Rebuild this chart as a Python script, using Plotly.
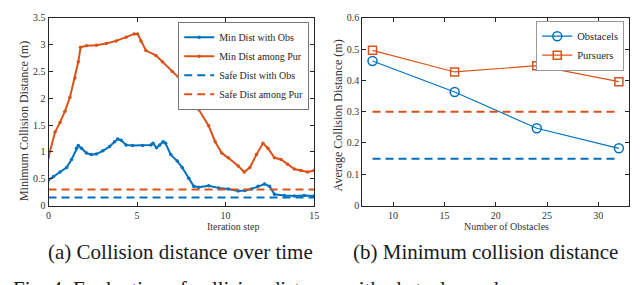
import plotly.graph_objects as go

# ---------------- data ----------------
# (a) collision distance over time
t_obs = [0, 0.28, 0.65, 1.02, 1.3, 1.58, 1.68, 1.86, 2.14, 2.42, 2.7, 3.07, 3.45, 3.73, 3.91, 4.1,
         4.38, 4.75, 5.31, 5.78, 5.9, 6.1, 6.28, 6.47, 6.61, 6.9, 7.27, 7.55, 7.92, 8.2, 8.48, 9.04,
         9.6, 10.15, 10.71, 11.09, 11.46, 11.83, 12.2, 12.48, 12.76, 13.32, 13.88, 14.44, 15]
d_obs = [0.476, 0.54, 0.625, 0.71, 0.86, 1.07, 1.12, 1.07, 0.98, 0.95, 0.96, 1.02, 1.1, 1.19, 1.24, 1.22,
         1.13, 1.12, 1.12, 1.13, 1.16, 1.08, 1.13, 1.19, 1.16, 0.95, 0.83, 0.71, 0.51, 0.36, 0.34, 0.37,
         0.33, 0.31, 0.27, 0.28, 0.31, 0.36, 0.40, 0.36, 0.21, 0.19, 0.18, 0.19, 0.18]
t_pur = [0, 0.37, 0.65, 0.93, 1.21, 1.49, 1.68, 1.81, 2.14, 2.7, 3.26, 3.82, 4.38, 4.84, 5.03, 5.22,
         5.5, 6.06, 6.43, 6.99, 7.55, 7.92, 8.2, 8.48, 9.04, 9.41, 9.78, 10.15, 10.71, 11.05, 11.37,
         11.74, 12.11, 12.39, 12.76, 13.13, 13.5, 13.88, 14.25, 14.63, 15]
d_pur = [0.905, 1.37, 1.55, 1.76, 2.02, 2.38, 2.68, 2.95, 2.98, 2.99, 3.02, 3.07, 3.14, 3.2, 3.2, 3.07,
         2.89, 2.8, 2.68, 2.5, 2.32, 2.08, 1.9, 1.79, 1.49, 1.19, 0.98, 0.89, 0.74, 0.625, 0.71,
         0.95, 1.16, 1.07, 0.89, 0.86, 0.77, 0.68, 0.655, 0.625, 0.655]
t_range = [0, 15]
safe_obs = 0.15
safe_pur = 0.30

# (b) minimum collision distance vs number of obstacles
n_obstacles = [8, 16, 24, 32]
avg_obs = [0.462, 0.363, 0.247, 0.183]
avg_pur = [0.496, 0.427, 0.447, 0.396]

BLUE = "#0072BD"
ORANGE = "#D95319"
FONT = "Liberation Serif"
W, H = 640, 285


def fx(p):
    return p / W


def fy(p):
    return 1 - p / H


fig = go.Figure()

# ---- left panel ----
fig.add_trace(go.Scatter(x=t_obs, y=d_obs, mode="lines+markers", name="Min Dist with Obs",
                         line=dict(color=BLUE, width=2), marker=dict(size=3.5, color=BLUE),
                         xaxis="x", yaxis="y", legend="legend"))
fig.add_trace(go.Scatter(x=t_pur, y=d_pur, mode="lines+markers", name="Min Dist among Pur",
                         line=dict(color=ORANGE, width=2), marker=dict(size=3.5, color=ORANGE),
                         xaxis="x", yaxis="y", legend="legend"))
fig.add_trace(go.Scatter(x=t_range, y=[safe_obs] * 2, mode="lines", name="Safe Dist with Obs",
                         line=dict(color=BLUE, width=2, dash="8px,5px"),
                         xaxis="x", yaxis="y", legend="legend"))
fig.add_trace(go.Scatter(x=t_range, y=[safe_pur] * 2, mode="lines", name="Safe Dist among Pur",
                         line=dict(color=ORANGE, width=2, dash="8px,5px"),
                         xaxis="x", yaxis="y", legend="legend"))

# ---- right panel ----
fig.add_trace(go.Scatter(x=n_obstacles, y=avg_obs, mode="lines+markers", name="Obstacels",
                         line=dict(color=BLUE, width=1.2),
                         marker=dict(symbol="circle-open", size=9, color=BLUE, line=dict(width=1.5)),
                         xaxis="x2", yaxis="y2", legend="legend2"))
fig.add_trace(go.Scatter(x=n_obstacles, y=avg_pur, mode="lines+markers", name="Pursuers",
                         line=dict(color=ORANGE, width=1.2),
                         marker=dict(symbol="square-open", size=8, color=ORANGE, line=dict(width=1.5)),
                         xaxis="x2", yaxis="y2", legend="legend2"))
fig.add_trace(go.Scatter(x=[n_obstacles[0], n_obstacles[-1]], y=[safe_pur] * 2, mode="lines",
                         line=dict(color=ORANGE, width=2, dash="8px,5px"), showlegend=False,
                         xaxis="x2", yaxis="y2"))
fig.add_trace(go.Scatter(x=[n_obstacles[0], n_obstacles[-1]], y=[safe_obs] * 2, mode="lines",
                         line=dict(color=BLUE, width=2, dash="8px,5px"), showlegend=False,
                         xaxis="x2", yaxis="y2"))

axis_common = dict(showgrid=False, zeroline=False, showline=True, linecolor="#262626", linewidth=1,
                   mirror="ticks", ticks="inside", ticklen=4, tickcolor="#262626",
                   ticklabeloverflow="allow",
                   tickfont=dict(family=FONT, size=10, color="#333333"))

fig.update_layout(
    width=W, height=H, autosize=False,
    margin=dict(l=0, r=0, t=0, b=0),
    paper_bgcolor="white", plot_bgcolor="white",
    font=dict(family=FONT, color="#262626"),
    xaxis=dict(domain=[fx(38), fx(307)], range=[0, 15], tickvals=[0, 5, 10, 15], anchor="y",
               **axis_common),
    yaxis=dict(domain=[fy(200), fy(4)], range=[0, 3.5],
               tickvals=[0, 0.5, 1, 1.5, 2, 2.5, 3, 3.5], anchor="x", **axis_common),
    xaxis2=dict(domain=[fx(355.7), fx(626)], range=[7, 33], tickvals=[10, 15, 20, 25, 30],
                anchor="y2", **axis_common),
    yaxis2=dict(domain=[fy(200), fy(4)], range=[0, 0.6],
                tickvals=[0, 0.1, 0.2, 0.3, 0.4, 0.5, 0.6], anchor="x2", **axis_common),
    legend=dict(x=fx(302), y=fy(8), xanchor="right", yanchor="top", bgcolor="white",
                bordercolor="#777777", borderwidth=1, font=dict(family=FONT, size=10, color="#262626"),
                tracegroupgap=0),
    legend2=dict(x=fx(621), y=fy(7), xanchor="right", yanchor="top", bgcolor="white",
                 bordercolor="#999999", borderwidth=1, font=dict(family=FONT, size=10.5, color="#262626")),
    showlegend=True,
)

ann = [
    dict(text="Minimum Collision Distance (m)", x=fx(13), y=fy(112), textangle=-90, size=12),
    dict(text="Average Collision Distance (m)", x=fx(331), y=fy(106), textangle=-90, size=12),
    dict(text="Iteration step", x=fx(225), y=fy(222), textangle=0, size=10),
    dict(text="Number of Obstacles", x=fx(502), y=fy(222), textangle=0, size=10),
    dict(text="(a) Collision distance over time", x=fx(172), y=fy(248), textangle=0, size=21),
    dict(text="(b) Minimum collision distance", x=fx(480), y=fy(248), textangle=0, size=21),
]
for a in ann:
    fig.add_annotation(text=a["text"], x=a["x"], y=a["y"], xref="paper", yref="paper",
                       xanchor="center", yanchor="middle", textangle=a["textangle"], showarrow=False,
                       font=dict(family=FONT, size=a["size"], color="#1a1a1a" if a["size"] > 15 else "#333333"))

fig.add_annotation(text="Fig. 4: Evaluation of collision distance with obstacles and pursuers.",
                   x=fx(0), y=fy(287), xref="paper", yref="paper", xanchor="left", yanchor="middle",
                   showarrow=False, font=dict(family=FONT, size=21, color="#1a1a1a"))

fig.write_html("out.html")
